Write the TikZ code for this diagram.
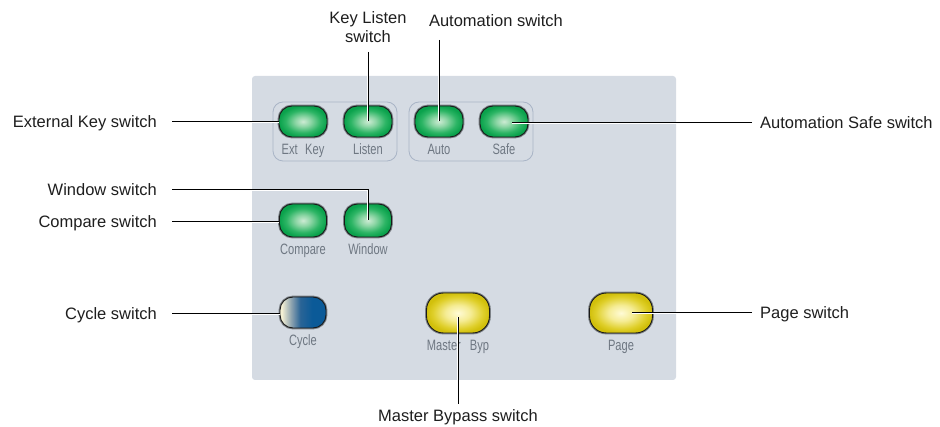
\documentclass[tikz,border=0pt]{standalone}
\usepackage{fontspec}
\setmainfont{Liberation Sans}
\newfontfamily\condf[FakeStretch=0.74]{Liberation Sans}
\definecolor{panelc}{HTML}{D5DBE3}
\definecolor{grpc}{HTML}{A9B4C6}
\definecolor{ringc}{HTML}{7D8288}
\definecolor{labc}{HTML}{6E7782}
\definecolor{txtc}{HTML}{1E1E1E}
\definecolor{gA}{HTML}{CDEBD4}
\definecolor{gB}{HTML}{8ED6A6}
\definecolor{gC}{HTML}{2DB565}
\definecolor{gD}{HTML}{0AA24C}
\definecolor{yA}{HTML}{FFFBD6}
\definecolor{yB}{HTML}{F5EC94}
\definecolor{yC}{HTML}{DFCF2A}
\definecolor{yD}{HTML}{D2C00C}
\definecolor{cyA}{HTML}{F4F0D4}
\definecolor{cyB}{HTML}{8FA4B0}
\definecolor{cyC}{HTML}{2A6496}
\definecolor{cyD}{HTML}{0B5A98}
\pgfdeclareradialshading{glowgreen}{\pgfpoint{0bp}{0bp}}{color(0bp)=(gA); color(8bp)=(gB); color(18bp)=(gC); color(25bp)=(gD); color(50bp)=(gD)}
\pgfdeclareradialshading{glowyellow}{\pgfpoint{0bp}{0bp}}{color(0bp)=(yA); color(10bp)=(yB); color(20bp)=(yC); color(25bp)=(yD); color(50bp)=(yD)}
\pgfdeclarehorizontalshading{cycleshade}{100bp}{color(0bp)=(cyA); color(27bp)=(cyA); color(37bp)=(cyB); color(47bp)=(cyC); color(60bp)=(cyD); color(100bp)=(cyD)}
\begin{document}
\begin{tikzpicture}[x=1pt,y=-1pt,
  btn/.style={rectangle, rounded corners=13pt, minimum width=48pt, minimum height=31pt,
    inner sep=0pt, draw=black!90, line width=0.9pt, preaction={draw=ringc, line width=2.8pt}},
  greenbtn/.style={btn, shade, shading=glowgreen},
  yellowbtn/.style={btn, shade, shading=glowyellow, minimum width=63pt, minimum height=40pt, rounded corners=17pt},
  bluebtn/.style={btn, shade, shading=cycleshade, minimum width=46pt},
  grpbox/.style={draw=grpc, line width=0.8pt, rounded corners=10pt},
  blab/.style={inner sep=0pt, text=labc, font=\condf\fontsize{15}{17}\selectfont, anchor=base},
  callout/.style={inner ysep=0pt, text height=12pt, text depth=0pt, text=txtc,
    font=\fontsize{16.5}{19}\selectfont},
  lead/.style={line width=1pt, black, preaction={draw=white, line width=2.6pt}}
]
\useasboundingbox (0,0) rectangle (940,427);
% panel and groups
\fill[panelc, rounded corners=3pt] (252,76) rectangle (676,380);
\draw[grpbox] (273,102) rectangle (397,161);
\draw[grpbox] (409,102) rectangle (533,161);
% buttons
\node[greenbtn] (extkey) at (303,121.5) {};
\node[greenbtn] (listen) at (368,121.5) {};
\node[greenbtn] (auto) at (439,121.5) {};
\node[greenbtn] (safe) at (504,121.5) {};
\node[greenbtn, minimum width=47pt, minimum height=33pt] (compare) at (303,220.5) {};
\node[greenbtn, minimum width=47pt, minimum height=33pt] (window) at (368,220.5) {};
\node[bluebtn] (cycle) at (303,312.5) {};
\node[yellowbtn] (master) at (458,313) {};
\node[yellowbtn] (page) at (621,313) {};
% button labels
\node[blab] (extkeyT) at (303,155) {Ext\hspace{0.5em}Key};
\node[blab] (listenT) at (368,155) {Listen};
\node[blab] (autoT) at (439,155) {Auto};
\node[blab] (safeT) at (504,155) {Safe};
\node[blab] (compareT) at (303,255) {Compare};
\node[blab] (windowT) at (368,255) {Window};
\node[blab] (cycleT) at (303,346) {Cycle};
\node[blab] (masterT) at (458,351) {Master\hspace{0.6em}Byp};
\node[blab] (pageT) at (621,351) {Page};
% callouts
\node[callout, inner xsep=15pt, anchor=east] (extL) at (172,122) {External Key switch};
\node[callout, inner xsep=15pt, anchor=east] (winL) at (172,190) {Window switch};
\node[callout, inner xsep=15pt, anchor=east] (cmpL) at (172,222) {Compare switch};
\node[callout, inner xsep=15pt, anchor=east] (cycL) at (172,314) {Cycle switch};
\node[callout, inner xsep=8pt, anchor=west] (safeL) at (752,123) {Automation Safe switch};
\node[callout, inner xsep=8pt, anchor=west] (pageL) at (752,313) {Page switch};
\node[callout, align=center, inner xsep=0pt, inner ysep=9pt, anchor=south] (klL) at (368,52) {Key Listen\\switch};
\node[callout, inner xsep=0pt, inner ysep=13pt, anchor=south] (autoL) at (496,40) {Automation switch};
\node[callout, inner xsep=0pt, inner ysep=5pt, anchor=north] (mbL) at (458,404) {Master Bypass switch};
\coordinate (safeP) at ([xshift=8pt]safe.center);
\coordinate (pageP) at ([xshift=11pt]page.center);
% leaders
\draw[lead] (extL.east) -- (extL.east -| extkey.west);
\draw[lead] (winL.east) -| (window.center);
\draw[lead] (cmpL.east) -- (cmpL.east -| compare.west);
\draw[lead] (cycL.east) -- (cycL.east -| cycle.west);
\draw[lead] (safeL.west) -- (safeL.west -| safeP);
\draw[lead] (pageL.west) -- (pageL.west -| pageP);
\draw[lead] (klL.south) -- (listen.center);
\draw[lead] (autoL.south -| auto.center) -- (auto.center);
\draw[lead] (mbL.north) -- ([yshift=-4pt]master.center);
\end{tikzpicture}
\end{document}
